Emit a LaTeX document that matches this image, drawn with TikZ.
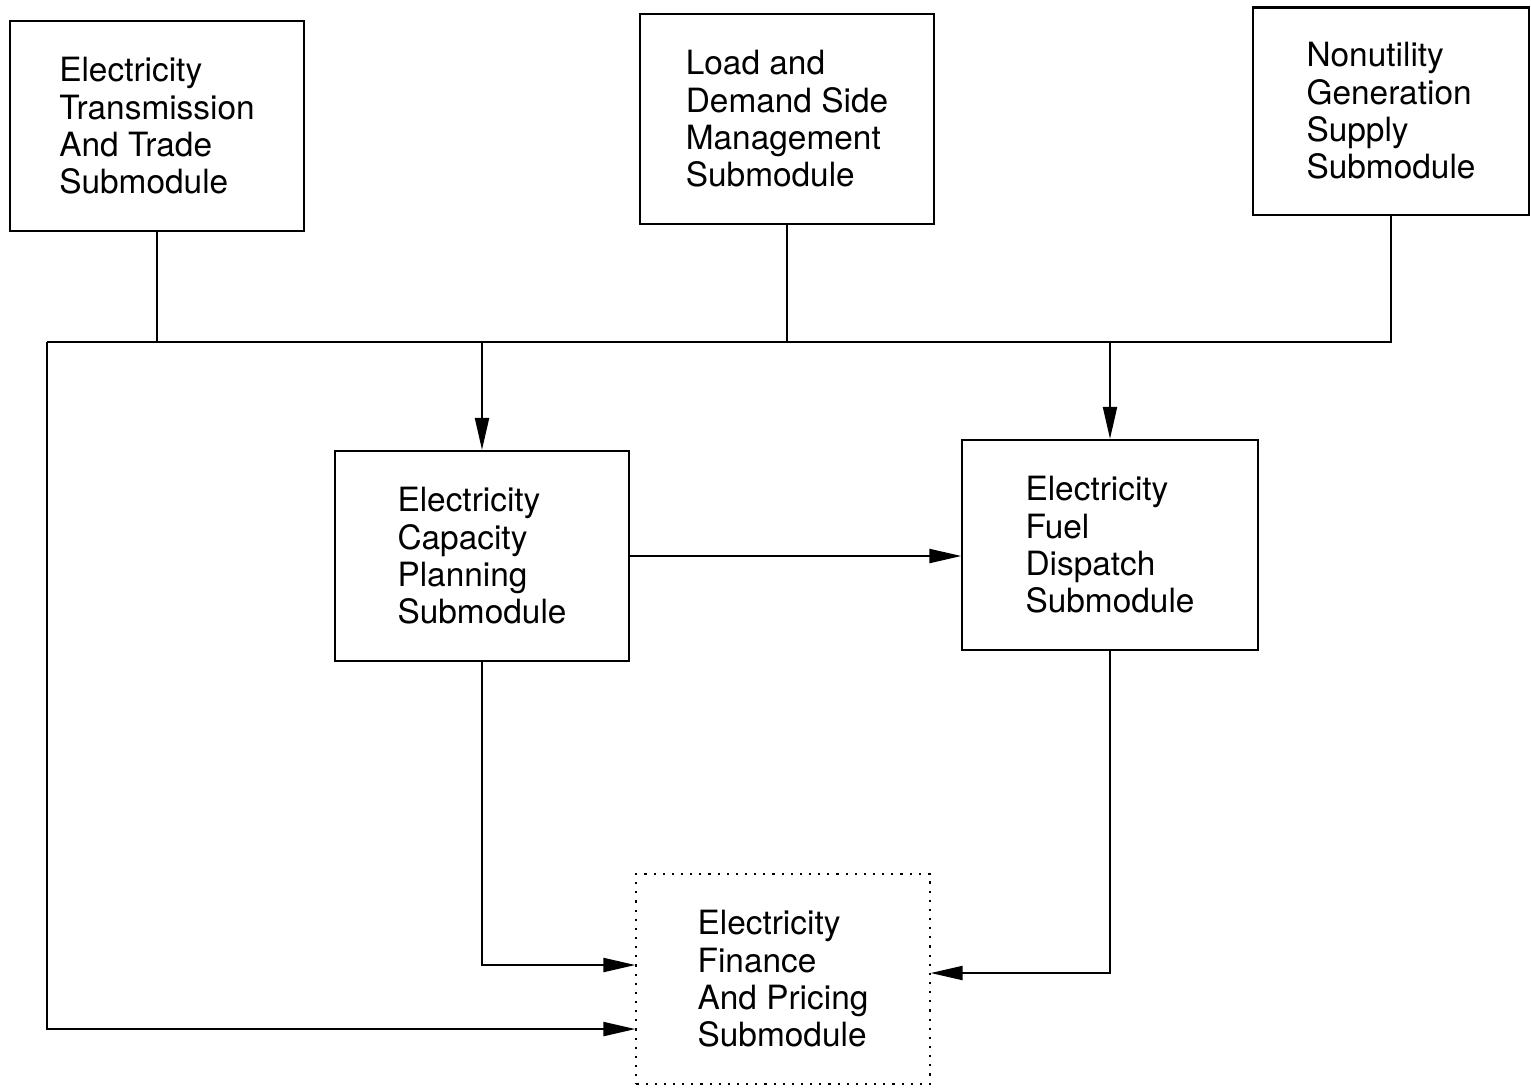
\documentclass[tikz,border=0pt]{standalone}
\usepackage{fontspec}
\setmainfont{TeX Gyre Heros}
\usetikzlibrary{arrows.meta}

\begin{document}
\begin{tikzpicture}[x=0.01cm, y=-0.01cm, line width=0.6pt,
    every node/.style={font=\fontsize{9.5}{10.6}\selectfont},
    submod/.style={draw, rectangle, align=left, minimum width=2.93cm, minimum height=2.1cm},
    arr/.style={-{Triangle[length=3.2mm, width=1.4mm]}}]
    \useasboundingbox (0,0) rectangle (1531,1087);

    \node[submod] (trans) at (157,126) {Electricity\\Transmission\\And Trade\\Submodule};
    \node[submod] (load) at (787,119) {Load and\\Demand Side\\Management\\Submodule};
    \node[submod, minimum width=2.76cm, minimum height=2.07cm] (nonutil) at (1391,111) {Nonutility\\Generation\\Supply\\Submodule};
    \node[submod] (cap) at (482,556) {Electricity\\Capacity\\Planning\\Submodule};
    \node[submod, minimum width=2.95cm] (disp) at (1110,545) {Electricity\\Fuel\\Dispatch\\Submodule};
    \node[submod, dotted] (fin) at (783,979) {Electricity\\Finance\\And Pricing\\Submodule};

    \coordinate (busL) at (47,342);

    \draw (trans) -- (trans |- busL);
    \draw (load) -- (load |- busL);
    \draw (nonutil) |- (busL);
    \draw[arr] (cap |- busL) -- (cap);
    \draw[arr] (disp |- busL) -- (disp);
    \draw[arr] (cap) -- (cap -| disp.west);
    \draw[arr] (cap.south) |- ([yshift=0.14cm]fin.west);
    \draw[arr] (disp.south) |- ([yshift=0.06cm]fin.east);
    \draw[arr] (busL) |- ([yshift=-0.5cm]fin.west);
\end{tikzpicture}
\end{document}
